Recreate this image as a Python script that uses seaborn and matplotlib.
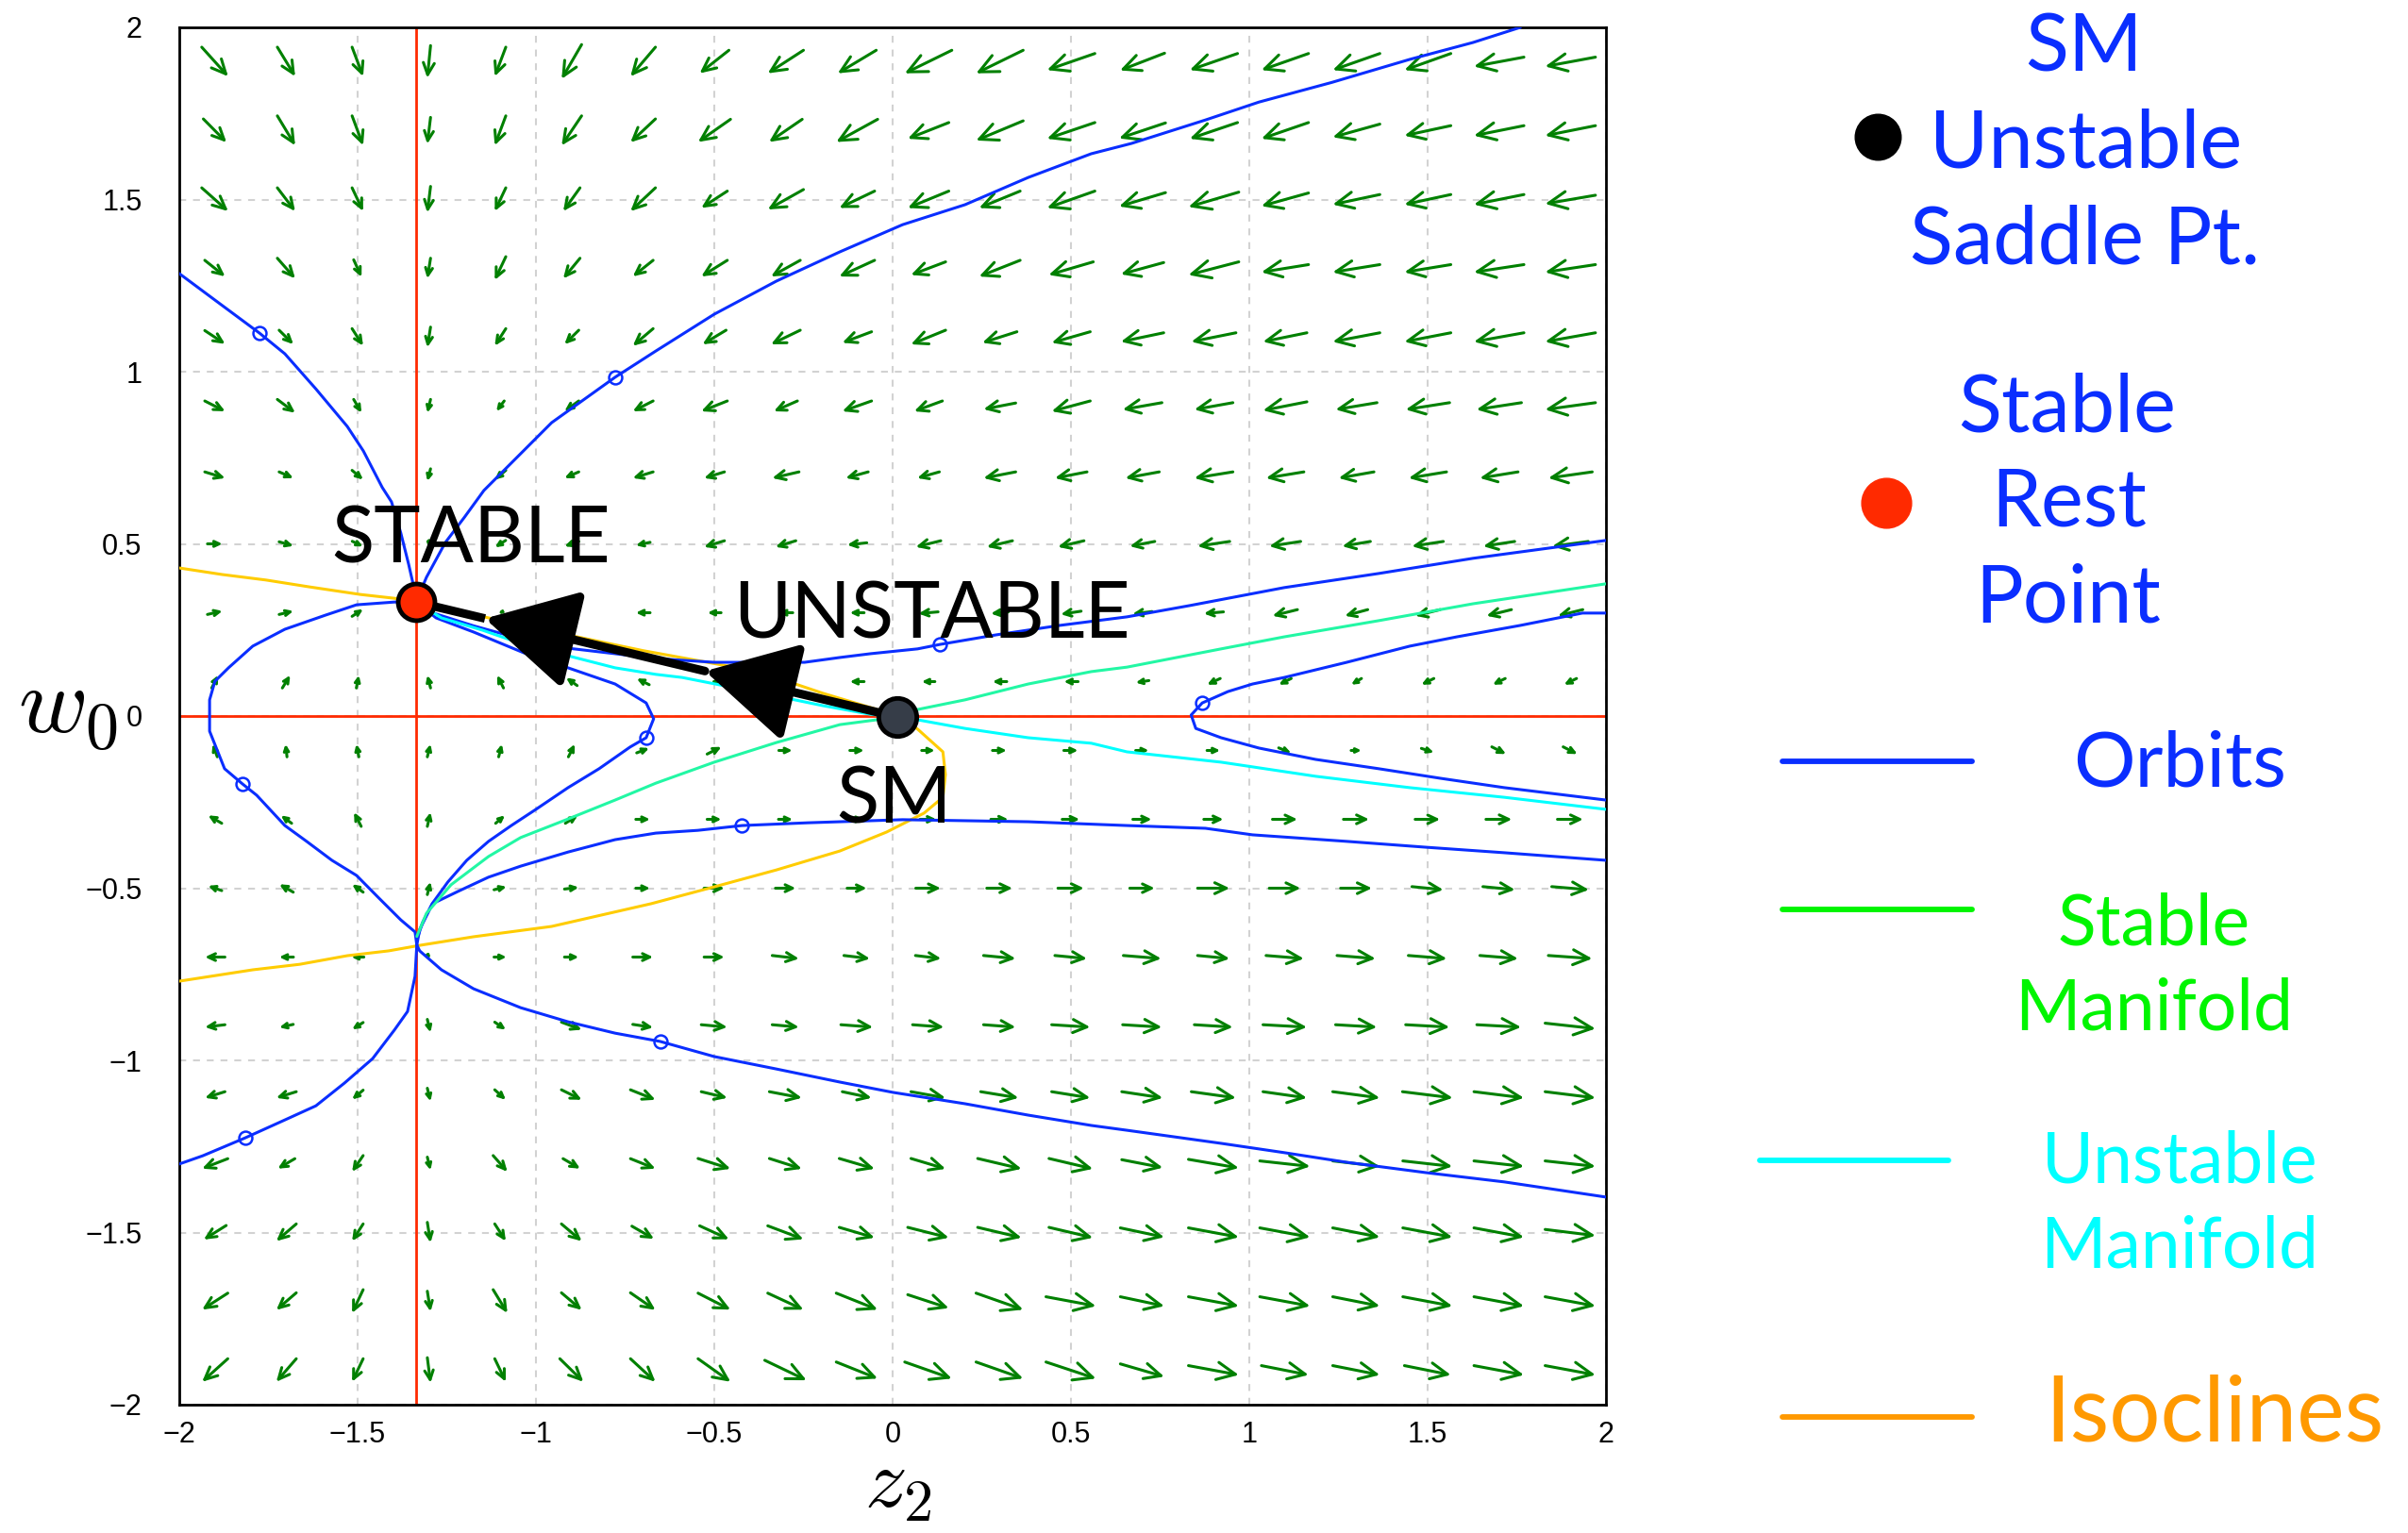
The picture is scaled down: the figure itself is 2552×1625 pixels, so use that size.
import numpy as np
import matplotlib
matplotlib.use("Agg")
import matplotlib.pyplot as plt
from matplotlib.lines import Line2D
import seaborn as sns

# direction field grid
grid_z2 = [-1.9, -1.7, -1.5, -1.3, -1.1, -0.9, -0.7, -0.5, -0.3, -0.1,
           0.1, 0.3, 0.5, 0.7, 0.9, 1.1, 1.3, 1.5, 1.7, 1.9]
grid_w0 = [1.9, 1.7, 1.5, 1.3, 1.1, 0.9, 0.7, 0.5, 0.3, 0.1,
           -0.1, -0.3, -0.5, -0.7, -0.9, -1.1, -1.3, -1.5, -1.7, -1.9]

# arrow components (hundredths of a unit), one row per w0 value, top row first
field_u = [
    [7.4, 5, 3.1, -0.9, -3.1, -5.6, -7, -8.2, -10, -10.8, -13.2, -13.2, -13.4, -12.5, -13.4, -13.2, -13.2, -13, -14, -14.1],
    [6.5, 5, 3.1, -0.9, -3.1, -5.6, -7, -9.1, -9.3, -11.6, -11.5, -13.2, -13.4, -13, -13.4, -13.2, -13.2, -13, -14, -14.1],
    [7.4, 5, 3.1, -0.9, -3.1, -4.7, -7, -7.3, -10, -9.9, -11.5, -11.5, -13.4, -13, -14.1, -13.2, -13.2, -13, -14, -14.1],
    [5.7, 5, 2.2, -0.9, -3.1, -4.7, -5.7, -7.3, -8.2, -9.9, -9.7, -11.5, -12.5, -12, -14.1, -13.2, -13.2, -13, -14, -14.1],
    [5.7, 4, 3.1, -0.9, -3.1, -4, -5.7, -6.6, -8.2, -8.2, -9.7, -9.7, -10.8, -12, -12.5, -12.3, -13.2, -13, -14, -14.1],
    [5.7, 5, 2.2, -0.9, -2.2, -4, -5.7, -7.3, -6.6, -8.2, -7.9, -9, -10.8, -11, -10.8, -12.3, -11.6, -12.3, -12.6, -14.1],
    [5.7, 4, 3.1, -0.9, -3.1, -4, -5.7, -5.7, -7.5, -6.3, -6.2, -9, -9, -9.5, -10.8, -10.6, -9.9, -10.6, -10.7, -12.3],
    [4.2, 4, 3, 0, -3, -4, -4, -5.7, -5.7, -5.5, -7, -7.2, -7.3, -7, -9, -8.8, -7.9, -8.8, -8.8, -10.1],
    [4.2, 4, 3.1, 0.5, -1, -4, -4, -3.8, -4, -4, -5.5, -4.9, -5.7, -5.5, -5.5, -7, -6.4, -7, -7, -7],
    [1.8, 2.2, 0.7, -0.9, -1.8, -3.1, -3.5, -2, -2, -4, -3.7, -4, -4, -3.7, -3.7, -3.5, -2.9, -3.5, -3.5, -3.5],
    [-1.3, -0.4, -0.7, 0.9, 0.9, 1.8, 3.5, 4, 3.8, 4, 3.7, 4, 4, 3.7, 3.7, 3.5, 2.9, 3.5, 4, 4],
    [-3.8, -3, -2, 0.9, 2.6, 3.5, 4, 4, 4, 4, 4.6, 4.9, 4.9, 5.3, 5.5, 7, 7.2, 7, 7.3, 7.2],
    [-3.8, -3.9, -3.1, 0.9, 3.5, 4, 4, 5.7, 5.7, 5.5, 7, 7.2, 7.3, 7, 9, 8.8, 8.8, 8.8, 9, 10.4],
    [-5.6, -4, -3.5, 0.5, 3.5, 4, 5.7, 5.7, 7.5, 7.3, 7.2, 9, 9, 10.6, 9, 10.6, 10.8, 10.8, 10.7, 12.3],
    [-5.6, -3.9, -3.1, 0.9, 3.1, 5.7, 5.7, 7.3, 7.5, 9, 8.8, 9, 10.8, 11, 10.8, 12.3, 11.6, 12.3, 12.4, 14.1],
    [-5.6, -5.6, -3.1, 0.9, 3.1, 5.7, 7, 7.3, 9.1, 8.2, 9.7, 10.6, 10.8, 11.5, 12.5, 12.3, 13.2, 14.1, 14, 14.1],
    [-7.2, -4.8, -3.1, 0.9, 4, 4.8, 7, 9.1, 9.1, 9.9, 9.7, 12.3, 12.3, 11.5, 14.1, 14.1, 13.2, 13.9, 14, 14.1],
    [-6.3, -5.6, -3.1, 0.9, 3.1, 5.7, 6.2, 8.2, 10, 9.9, 11.5, 12.3, 12.3, 12.3, 14.1, 14.1, 13.2, 13.9, 14, 14.1],
    [-7.2, -5.6, -3.1, 0.9, 4, 5.7, 7, 9.1, 10, 11.6, 11.5, 13.2, 14, 12.3, 14.1, 14.1, 13.2, 13.9, 14, 14.1],
    [-7.2, -5.6, -3.1, 0.9, 3.1, 6.6, 7, 9.1, 11.7, 11.6, 13.2, 13.2, 14, 12.3, 14.1, 13.2, 13.2, 13, 14, 14.1],
]
field_v = [
    [-8.5, -8.5, -8.5, -9.4, -8.5, -10, -8.5, -6.7, -6.7, -6.7, -6.7, -6.7, -4.8, -5, -4.8, -4.8, -4.8, -4.8, -2.7, -2.7],
    [-6.8, -8.6, -8.6, -7.7, -8.6, -8.6, -6.8, -6.6, -6.6, -6.6, -4.7, -5.7, -4.7, -4.5, -4.7, -4.7, -3.8, -2.9, -2.9, -2.9],
    [-6.8, -6.8, -6.8, -7.6, -6.8, -6.8, -6.8, -4.9, -5.8, -4.9, -4.9, -4.9, -4.9, -4, -4.3, -3.8, -2.9, -2.9, -2.9, -2.5],
    [-4.7, -5.9, -5, -5.9, -6.8, -5.9, -4.7, -4.7, -4.7, -4.7, -3.8, -4.7, -3.8, -3.4, -3.8, -2.2, -2.2, -2.2, -2.2, -2.2],
    [-3.9, -4.1, -5, -5.9, -5, -4.1, -5, -4.1, -4.1, -3.2, -4.1, -3.2, -3.2, -2.6, -2.6, -2.6, -2.6, -2.6, -2.6, -2.6],
    [-3, -3.9, -3.9, -3.9, -3, -3, -3, -3, -3, -3, -3, -1.8, -3, -2, -2, -2.5, -2, -2, -2, -2],
    [-1.8, -1.8, -2.7, -3.6, -2.7, -1.8, -1.8, -1.8, -1.8, -1.8, -1.8, -1.8, -1.8, -1.8, -1.8, -1.8, -1.8, -1.8, -1.8, -1.8],
    [0, -1.2, -1.5, -2, -2, -1.4, -0.9, -1.8, -1.8, -0.6, -1.8, -1.8, -1.8, -1.4, -1.4, -1.4, -1.4, -1.4, -1.4, -1.4],
    [1, 1, 2.1, 0.5, -0.5, 0, 0, 0, 0, 0, -0.5, -0.5, -0.9, -0.7, -0.5, -1.8, -1.8, -1.8, -1.8, -1.8],
    [3.7, 3.7, 3.7, 3.7, 3.7, 2.3, 1.8, 0, 0, 0, 0, 0, 0, -0.6, -1.8, -1.8, -1.8, -1.8, -1.8, -1.8],
    [3.7, 3.7, 3.7, 3.7, 3.7, 3.7, 1.4, 2.1, 0, 0, 0, 0, 0, 0, 0, -1.5, 0, -1.2, -2.1, -2.1],
    [2.3, 2.3, 4.1, 4.1, 2.3, 2.3, 0, 0, 0, 0, 0, 0, 0, 0, 0, 0, 0, 0, 0, 0],
    [1.4, 2.3, 2.3, 3.7, 0.9, 0.5, 0, 0, 0, 0, 0, 0, 0, 0, 0, 0, 0, -0.9, -0.9, -0.9],
    [0, 0, 0, -1, 0, 0, 0, 0, -0.9, -0.9, -0.9, -0.9, -0.9, -0.9, -0.9, -0.9, -0.9, -0.9, -0.9, -0.9],
    [-0.7, -0.9, -2, -3.8, -2.2, -2.2, -0.9, -0.7, -0.7, -0.7, -0.7, -0.7, -0.7, -0.7, -0.7, -0.7, -0.7, -0.7, -0.7, -1.6],
    [-1.8, -1.8, -2.7, -3.8, -2.9, -2.9, -2.9, -1.8, -1.8, -1.8, -1.8, -1.8, -1.8, -1.8, -1.8, -1.8, -1.8, -1.8, -1.8, -1.8],
    [-2.9, -2.9, -4.7, -3.8, -4.7, -2.9, -2.9, -3, -3, -3, -3, -3, -3, -2.3, -2.5, -1.6, -1.6, -1.6, -1.6, -1.6],
    [-4.1, -5, -5, -5.9, -5, -5, -3.7, -3.9, -3.9, -3, -3, -3, -3, -2.7, -2.7, -2.7, -2.7, -2.7, -2.7, -1.8],
    [-4.8, -5, -6.8, -5.9, -6.8, -5, -5, -4.8, -4.8, -4.8, -3.9, -4.8, -2.7, -2.7, -2.7, -2.7, -2.7, -2.7, -2.7, -2.7],
    [-6.7, -6.7, -6.7, -7.3, -6.7, -6.7, -6.7, -6.7, -5.8, -4.8, -4.8, -4.8, -4.8, -3.7, -2.7, -2.7, -2.7, -2.7, -2.7, -2.7],
]

# orbits (z2, w0)
orbit_a = [(-1.336, 0.331), (-1.307, 0.403), (-1.254, 0.504), (-1.2, 0.578), (-1.146, 0.655),
           (-0.956, 0.852), (-0.778, 0.984), (-0.664, 1.06), (-0.5, 1.167), (-0.326, 1.263),
           (-0.148, 1.348), (0.028, 1.427), (0.203, 1.485), (0.38, 1.564), (0.557, 1.633),
           (0.67, 1.663), (0.877, 1.731), (1.027, 1.783), (1.231, 1.84), (1.45, 1.907),
           (1.627, 1.956), (1.76, 2.0)]
orbit_b = [(-2.0, 1.285), (-1.9, 1.208), (-1.775, 1.112), (-1.704, 1.052), (-1.617, 0.95),
           (-1.529, 0.841), (-1.484, 0.77), (-1.431, 0.664), (-1.405, 0.622), (-1.379, 0.532),
           (-1.357, 0.441), (-1.339, 0.359), (-1.336, 0.331)]
orbit_c = [(-1.336, 0.331), (-1.397, 0.331), (-1.503, 0.323), (-1.59, 0.293), (-1.704, 0.252),
           (-1.794, 0.203), (-1.862, 0.14), (-1.9, 0.101), (-1.915, 0.047), (-1.915, -0.044),
           (-1.873, -0.153), (-1.823, -0.197), (-1.783, -0.23), (-1.704, -0.318), (-1.643, -0.364),
           (-1.572, -0.419), (-1.503, -0.463), (-1.44, -0.529), (-1.379, -0.592), (-1.339, -0.627),
           (-1.334, -0.665)]
orbit_d = [(-1.334, -0.665), (-1.339, -0.756), (-1.36, -0.858), (-1.397, -0.912), (-1.458, -0.995),
           (-1.537, -1.066), (-1.617, -1.132), (-1.704, -1.173), (-1.815, -1.225), (-1.934, -1.277),
           (-2.0, -1.301)]
orbit_e = [(-1.334, -0.665), (-1.326, -0.682), (-1.265, -0.737), (-1.175, -0.792), (-1.043, -0.847),
           (-0.91, -0.888), (-0.778, -0.921), (-0.652, -0.945), (-0.5, -0.989), (-0.326, -1.025),
           (-0.148, -1.063), (0.001, -1.093), (0.203, -1.126), (0.38, -1.159), (0.557, -1.189),
           (0.657, -1.203), (0.921, -1.241), (1.098, -1.268), (1.273, -1.296), (1.495, -1.326),
           (1.715, -1.353), (2.0, -1.397)]
orbit_f = [(-1.334, -0.665), (-1.326, -0.62), (-1.29, -0.545), (-1.22, -0.51), (-1.133, -0.468),
           (-1.043, -0.436), (-0.91, -0.395), (-0.778, -0.359), (-0.664, -0.34), (-0.546, -0.332),
           (-0.422, -0.318), (-0.237, -0.31), (0.028, -0.301), (0.38, -0.307), (0.657, -0.318),
           (0.877, -0.326), (1.009, -0.345), (1.273, -0.364), (1.495, -0.381), (1.715, -0.397),
           (2.0, -0.419)]
orbit_g = [(-1.336, 0.331), (-1.291, 0.3), (-1.175, 0.262), (-1.035, 0.222), (-0.91, 0.197),
           (-0.778, 0.181), (-0.664, 0.167), (-0.5, 0.156), (-0.247, 0.156), (-0.148, 0.17),
           (-0.062, 0.181), (0.07, 0.195), (0.133, 0.208), (0.292, 0.236), (0.467, 0.263),
           (0.657, 0.288), (0.834, 0.321), (1.098, 0.373), (1.363, 0.414), (1.627, 0.458),
           (2.0, 0.51)]
orbit_h = [(-1.336, 0.331), (-1.28, 0.285), (-1.175, 0.244), (-1.035, 0.184), (-0.91, 0.14),
           (-0.778, 0.093), (-0.691, 0.038), (-0.67, -0.008), (-0.691, -0.063), (-0.736, -0.09),
           (-0.823, -0.153), (-0.91, -0.208), (-1.0, -0.271), (-1.069, -0.318), (-1.133, -0.364),
           (-1.194, -0.419), (-1.247, -0.482), (-1.291, -0.545), (-1.318, -0.6), (-1.334, -0.65)]
orbit_i = [(2.0, 0.299), (1.934, 0.299), (1.759, 0.263), (1.582, 0.23), (1.45, 0.203),
           (1.273, 0.156), (1.098, 0.112), (1.009, 0.093), (0.94, 0.071), (0.868, 0.038),
           (0.837, 0.003), (0.85, -0.036), (0.921, -0.063), (1.027, -0.093), (1.186, -0.126),
           (1.363, -0.153), (1.537, -0.181), (1.715, -0.208), (2.0, -0.244)]
orbit_marks = [(-0.778, 0.984), (-1.775, 1.112), (-1.823, -0.197), (-0.691, -0.063),
               (-1.815, -1.225), (-0.652, -0.945), (-0.422, -0.318), (0.133, 0.208), (0.868, 0.038)]

stable_manifold = [(-1.334, -0.64), (-1.307, -0.573), (-1.238, -0.49), (-1.133, -0.408),
                   (-1.043, -0.353), (-0.91, -0.299), (-0.778, -0.244), (-0.664, -0.195),
                   (-0.5, -0.134), (-0.326, -0.077), (-0.148, -0.025), (0.014, -0.003),
                   (0.07, 0.019), (0.203, 0.047), (0.38, 0.093), (0.557, 0.129), (0.657, 0.142),
                   (0.921, 0.195), (1.098, 0.23), (1.363, 0.277), (1.627, 0.326), (2.0, 0.384)]
unstable_manifold = [(-1.336, 0.331), (-1.265, 0.285), (-1.149, 0.249), (-1.035, 0.208),
                     (-0.91, 0.175), (-0.778, 0.14), (-0.664, 0.121), (-0.59, 0.112),
                     (-0.458, 0.085), (-0.326, 0.058), (-0.195, 0.03), (-0.062, 0.005),
                     (0.014, -0.003), (0.07, -0.011), (0.203, -0.036), (0.38, -0.063),
                     (0.557, -0.079), (0.657, -0.104), (0.921, -0.134), (1.186, -0.175),
                     (1.45, -0.208), (1.715, -0.236), (2.0, -0.271)]
isocline = [(-2.0, 0.43), (-1.88, 0.411), (-1.757, 0.395), (-1.635, 0.375), (-1.492, 0.353),
            (-1.397, 0.342), (-1.336, 0.331), (-1.0, 0.255), (-0.7, 0.19), (-0.376, 0.129),
            (-0.195, 0.066), (-0.044, 0.019), (0.014, -0.003), (0.07, -0.038), (0.141, -0.104),
            (0.148, -0.17), (0.141, -0.236), (0.088, -0.282), (-0.017, -0.337), (-0.148, -0.392),
            (-0.326, -0.447), (-0.5, -0.496), (-0.677, -0.545), (-0.956, -0.611), (-1.175, -0.641),
            (-1.326, -0.666), (-1.413, -0.682), (-1.529, -0.696), (-1.662, -0.721), (-1.794, -0.737),
            (-2.0, -0.77)]

saddle_pt = (0.014, -0.003)
stable_pt = (-1.336, 0.331)
null_z2 = -1.336
null_w0 = 0.0
head_fracs = [0.40, 0.857]   # where the two big arrowheads sit on the SM -> stable path

tick_vals = [-2, -1.5, -1, -0.5, 0, 0.5, 1, 1.5, 2]
tick_text = ["\u22122", "\u22121.5", "\u22121", "\u22120.5", "0", "0.5", "1", "1.5", "2"]

BLUE = "#0a2eff"
ARROW_GREEN = "#008000"
RED = "#ff2a00"
CYAN = "#00ffff"
SPRING = "#22f7a4"
GOLD = "#ffcc00"

sns.set_theme(style="white")
plt.rcParams["font.family"] = ["Lato", "DejaVu Sans"]
plt.rcParams["mathtext.fontset"] = "cm"

W, H = 2552, 1625
fig = plt.figure(figsize=(W / 100, H / 100), dpi=100)
ax = fig.add_axes([190 / W, 1 - 1489 / H, 1512 / W, 1460 / H])

# direction field
px_x, px_y = 1512 / 4, 1460 / 4
for i, w in enumerate(grid_w0):
    for j, z in enumerate(grid_z2):
        u = field_u[i][j] / 100
        v = field_v[i][j] / 100
        length_pt = np.hypot(u * px_x, v * px_y) * 0.72
        style = "->,head_length=%.2f,head_width=%.2f" % (0.36 * length_pt, 0.17 * length_pt)
        ax.annotate("", xy=(z + u / 2, w + v / 2), xytext=(z - u / 2, w - v / 2),
                    arrowprops=dict(arrowstyle=style, color=ARROW_GREEN, lw=2.2,
                                    shrinkA=0, shrinkB=0, mutation_scale=1),
                    zorder=2)

ax.axvline(null_z2, color=RED, lw=2.0, zorder=2.5)
ax.axhline(null_w0, color=RED, lw=2.0, zorder=2.5)


def draw_curve(points, color, lw=2.2):
    zs = [p[0] for p in points]
    ws = [p[1] for p in points]
    sns.lineplot(x=zs, y=ws, sort=False, estimator=None, color=color, lw=lw, ax=ax, zorder=3)


draw_curve(isocline, GOLD)
for orb in [orbit_a, orbit_b, orbit_c, orbit_d, orbit_e, orbit_f, orbit_g, orbit_h, orbit_i]:
    draw_curve(orb, BLUE)
draw_curve(stable_manifold, SPRING)
draw_curve(unstable_manifold, CYAN)

ax.plot([p[0] for p in orbit_marks], [p[1] for p in orbit_marks], ls="none", marker="o",
        ms=10, mfc="none", mec=BLUE, mew=1.8, zorder=4)

# big black arrow SM -> stable rest point
sx, sy = saddle_pt
tx, ty = stable_pt
tips = [(sx + f * (tx - sx), sy + f * (ty - sy)) for f in head_fracs]
ax.plot([tips[1][0], tx], [tips[1][1], ty], color="black", lw=6.5, solid_capstyle="butt", zorder=5)
starts = [saddle_pt, tips[0]]
for start, tip in zip(starts, tips):
    ax.annotate("", xy=tip, xytext=start,
                arrowprops=dict(arrowstyle="-|>,head_length=60,head_width=33", color="black",
                                lw=6.5, shrinkA=0, shrinkB=0, mutation_scale=1),
                zorder=5)

ax.plot(*stable_pt, marker="o", ms=28, mfc="#ff2a00", mec="black", mew=3.5, zorder=6)
ax.plot(*saddle_pt, marker="o", ms=29, mfc="#363d48", mec="black", mew=3.5, zorder=6)

ax.text(-1.181, 0.445, "STABLE", fontsize=60, ha="center", va="baseline", color="black", zorder=7)
ax.text(0.11, 0.225, "UNSTABLE", fontsize=60, ha="center", va="baseline", color="black", zorder=7)
ax.text(0.004, -0.312, "SM", fontsize=60, ha="center", va="baseline", color="black", zorder=7)

ax.set_xlim(-2, 2)
ax.set_ylim(-2, 2)
ax.set_xticks(tick_vals)
ax.set_yticks(tick_vals)
ax.set_xticklabels(tick_text, family=["Liberation Sans", "DejaVu Sans"], fontsize=22)
ax.set_yticklabels(tick_text, family=["Liberation Sans", "DejaVu Sans"], fontsize=22)
ax.tick_params(axis="x", direction="inout", length=9, width=2, pad=8, colors="black")
ax.tick_params(axis="y", direction="inout", length=9, width=2, pad=24, colors="black")
ax.grid(True, color="#d2d2d2", lw=1.5, ls=(0, (3.5, 3.5)))
ax.set_axisbelow(True)
for sp in ax.spines.values():
    sp.set_color("black")
    sp.set_linewidth(2)
ax.set_xlabel("")
ax.set_ylabel("")

# side legend and axis names, placed in picture pixels
ov = fig.add_axes([0, 0, 1, 1])
ov.set_xlim(0, W)
ov.set_ylim(H, 0)
ov.axis("off")

ov.text(72, 752, r"$w_0$", fontsize=72, ha="center", va="center", color="black")
ov.text(952, 1598, r"$z_2$", fontsize=64, ha="center", va="baseline", color="black")

legend_texts = [
    ("SM", 2209, 76, BLUE, 61), ("Unstable", 2211, 177, BLUE, 61),
    ("Saddle Pt.", 2210, 280, BLUE, 61), ("Stable", 2191, 458, BLUE, 61),
    ("Rest", 2193, 558, BLUE, 61), ("Point", 2192, 659, BLUE, 61),
    ("Orbits", 2310, 834, BLUE, 59), ("Stable", 2283, 1002, "#00f500", 54),
    ("Manifold", 2283, 1092, "#00f500", 54), ("Unstable", 2310, 1254, CYAN, 54),
    ("Manifold", 2310, 1343, CYAN, 54), ("Isoclines", 2347, 1528, "#ff9900", 69),
]
for txt, x, y, col, size in legend_texts:
    ov.text(x, y, txt, fontsize=size, color=col, ha="center", va="baseline")

ov.plot(1990, 145, marker="o", ms=35, color="black", ls="none")
ov.plot(1999, 533, marker="o", ms=38, color="#ff2a00", ls="none")
for x0, x1, y, col in [(1889, 2090, 807, BLUE), (1889, 2090, 964, "#00f500"),
                       (1865, 2065, 1230, CYAN), (1889, 2090, 1502, "#ff9900")]:
    ov.add_line(Line2D([x0, x1], [y, y], color=col, lw=4.2))

fig.savefig("out.png", dpi=100)
